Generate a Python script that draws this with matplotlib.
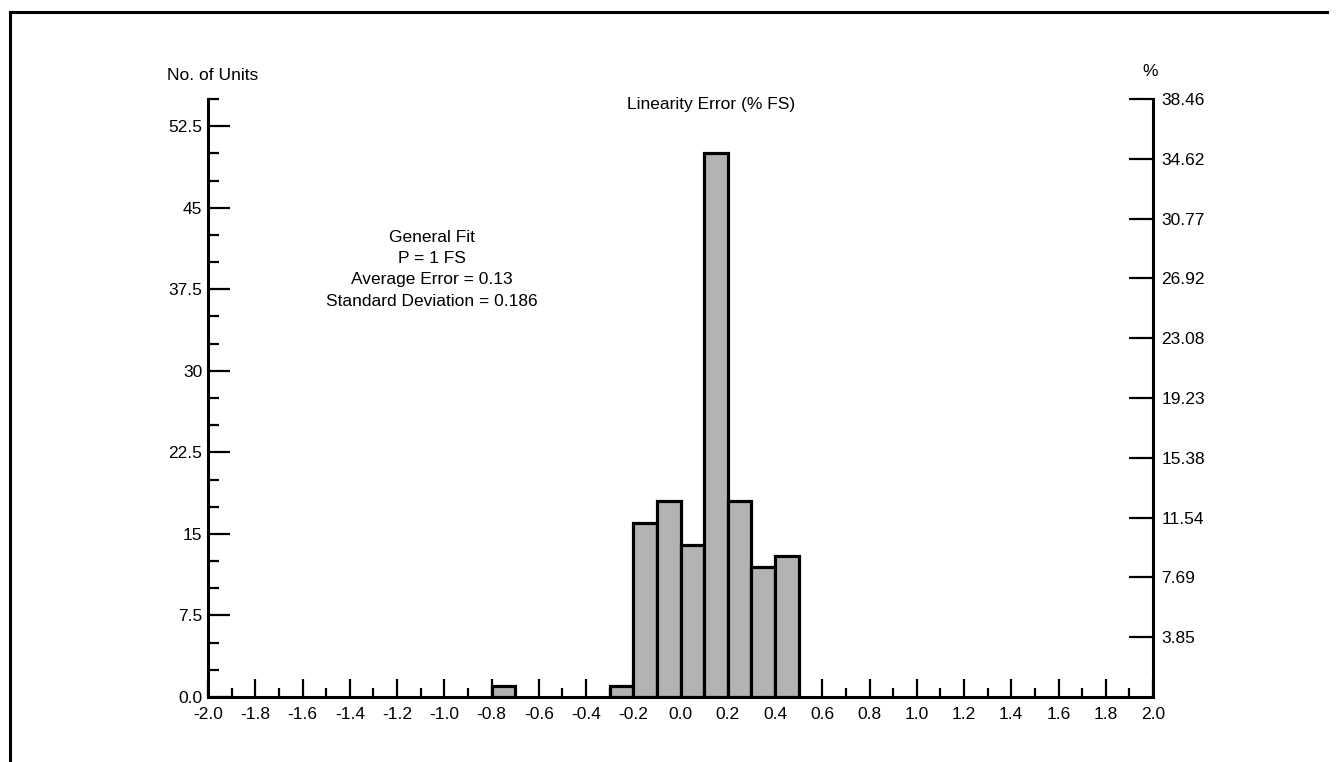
import matplotlib
matplotlib.use("Agg")
import matplotlib.pyplot as plt
from matplotlib.lines import Line2D
from matplotlib.ticker import MultipleLocator, FixedLocator

plt.rcParams['font.family'] = ['Liberation Sans', 'DejaVu Sans']

# ---- data ----
bin_left = [-0.8, -0.3, -0.2, -0.1, 0.0, 0.1, 0.2, 0.3, 0.4]
counts = [1, 1, 16, 18, 14, 50, 18, 12, 13]
bin_width = 0.1
x_ticks = [-2.0, -1.8, -1.6, -1.4, -1.2, -1.0, -0.8, -0.6, -0.4, -0.2, 0.0,
           0.2, 0.4, 0.6, 0.8, 1.0, 1.2, 1.4, 1.6, 1.8, 2.0]
y_ticks = [0, 7.5, 15, 22.5, 30, 37.5, 45, 52.5]
y_tick_labels = ["0.0", "7.5", "15", "22.5", "30", "37.5", "45", "52.5"]
pct_ticks = [3.85, 7.69, 11.54, 15.38, 19.23, 23.08, 26.92, 30.77, 34.62, 38.46]
annotation = ["General Fit", "P = 1 FS", "Average Error = 0.13", "Standard Deviation = 0.186"]
title = "Linearity Error (% FS)"
y_label = "No. of Units"
pct_label = "%"

W, H = 1336, 762
fig = plt.figure(figsize=(W / 100, H / 100), dpi=100)

L, R, T, B = 208, 1153, 99, 697
ax = fig.add_axes([L / W, 1 - B / H, (R - L) / W, (B - T) / H])

FS = 12.5
SP = 2.2

ax.bar(bin_left, counts, width=bin_width, align='edge', color='#b3b3b3',
       edgecolor='black', linewidth=2.3, zorder=3)

ax.set_xlim(-2.0, 2.0)
ax.set_ylim(0, 55)

for s in ['top', 'right']:
    ax.spines[s].set_visible(False)
for s in ['left', 'bottom']:
    ax.spines[s].set_linewidth(SP)

ax.xaxis.set_major_locator(FixedLocator(x_ticks))
ax.set_xticklabels([f"{v:.1f}" for v in x_ticks])
ax.xaxis.set_minor_locator(MultipleLocator(0.1))
ax.yaxis.set_major_locator(FixedLocator(y_ticks))
ax.set_yticklabels(y_tick_labels)
ax.yaxis.set_minor_locator(MultipleLocator(2.5))

ax.tick_params(axis='x', which='major', direction='in', length=13, width=1.6,
               labelsize=FS, pad=7)
ax.tick_params(axis='x', which='minor', direction='in', length=6.5, width=1.6)
ax.tick_params(axis='y', which='major', direction='in', length=16, width=1.6,
               labelsize=FS, pad=4)
ax.tick_params(axis='y', which='minor', direction='in', length=8, width=1.6)

ax2 = ax.twinx()
ax2.set_ylim(0, 38.46)
for s in ['top', 'left', 'bottom']:
    ax2.spines[s].set_visible(False)
ax2.spines['right'].set_linewidth(SP)
ax2.yaxis.set_major_locator(FixedLocator(pct_ticks))
ax2.set_yticklabels([f"{v:.2f}" for v in pct_ticks])
ax2.tick_params(axis='y', which='major', direction='in', length=17, width=1.6,
                labelsize=FS, pad=6)

# texts
fig.text(213 / W, 1 - 75 / H, y_label, ha='center', va='center', fontsize=FS)
fig.text(1150 / W, 1 - 72 / H, pct_label, ha='center', va='center', fontsize=FS)
fig.text(711 / W, 1 - 105 / H, title, ha='center', va='center', fontsize=FS)
for i, line in enumerate(annotation):
    fig.text(432 / W, 1 - (237 + 21.5 * i) / H, line, ha='center', va='center',
             fontsize=FS)

# outer frame
lw_frame = 2.2
fig.add_artist(Line2D([10 / W, 1327 / W], [1 - 12 / H, 1 - 12 / H],
                      color='black', linewidth=lw_frame, transform=fig.transFigure))
fig.add_artist(Line2D([10 / W, 10 / W], [1 - 12 / H, 0],
                      color='black', linewidth=lw_frame, transform=fig.transFigure))

fig.savefig("out.png", dpi=100, facecolor='white')
